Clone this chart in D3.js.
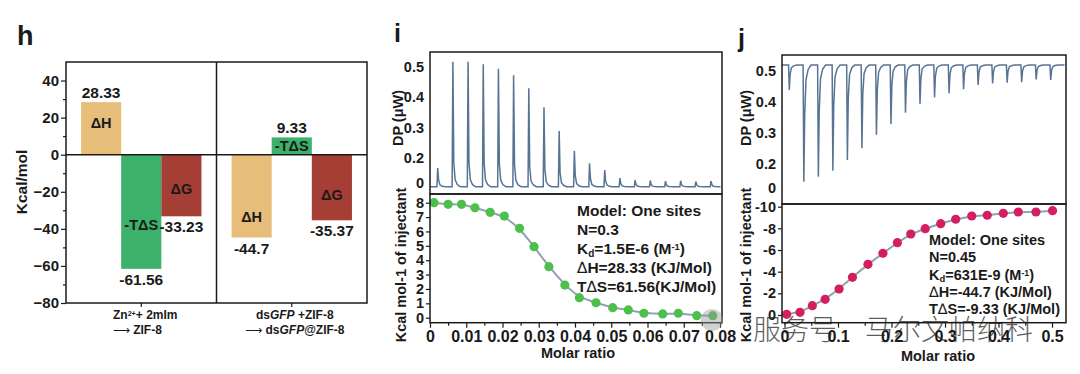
<!DOCTYPE html>
<html>
<head>
<meta charset="utf-8">
<script src="https://cdn.jsdelivr.net/npm/d3@7"></script>
<style>
  body { margin: 0; background: #fff; }
  svg text { font-family: "Liberation Sans", Arial, sans-serif; font-weight: bold; fill: #1a1a1a; }
  .axis path, .axis line { stroke: #1a1a1a; stroke-width: 1.2; }
</style>
</head>
<body>
<div id="chart"></div>
<script>
// ---- panel h : thermodynamic bars ----
const hGroups = ["zif", "gfp"];
const hTerms = ["ΔH", "-TΔS", "ΔG"];
const hValues = [[28.33, -61.56, -33.23], [-44.7, 9.33, -35.37]];
const hColors = ["#e6be7a", "#3bb16b", "#a53e35"];
const hTicks = [-80, -60, -40, -20, 0, 20, 40];
const hMinor = [-70, -50, -30, -10, 10, 30];
// where the term name sits inside each bar (share of the bar length)
const hNameDepth = [[0.6, 0.62, 0.56], [0.75, 0.5, 0.61]];

// ---- panel i : dsGFP + ZIF-8 titration ----
const iPeaks = [0.12, 0.517, 0.517, 0.509, 0.494, 0.473, 0.43, 0.367, 0.289, 0.224,
  0.158, 0.104, 0.04, 0.024, 0.02, 0.015, 0.018, 0.012, 0.015];
const iBase = -0.03;
const iRatio = [0.0011, 0.005, 0.0087, 0.0124, 0.0166, 0.0205, 0.0247, 0.0287, 0.0328, 0.0372,
  0.0412, 0.0458, 0.0504, 0.0547, 0.059, 0.0642, 0.0685, 0.0736, 0.078];
const iHeat = [8.0, 7.89, 7.89, 7.65, 7.33, 7.07, 6.22, 4.94, 3.55, 2.27,
  1.39, 1.04, 0.7, 0.54, 0.31, 0.26, 0.31, 0.14, 0.14];
const iRatioTicks = [0, 0.01, 0.02, 0.03, 0.04, 0.05, 0.06, 0.07, 0.08];
const iHeatTicks = [0, 1, 2, 3, 4, 5, 6, 7, 8];

// ---- panel j : Zn2+ + 2mIm titration ----
const jPeaks = [0.439, 0.053, 0.094, 0.144, 0.213, 0.251, 0.294, 0.329, 0.365, 0.394,
  0.415, 0.428, 0.441, 0.455, 0.46, 0.462, 0.464, 0.473, 0.471];
const jBase = 0.519;
const jRatio = [0.004, 0.029, 0.052, 0.076, 0.102, 0.127, 0.156, 0.184, 0.211, 0.236,
  0.263, 0.292, 0.32, 0.35, 0.379, 0.409, 0.437, 0.47, 0.501];
const jHeat = [-0.06, -0.25, -0.86, -1.45, -2.4, -3.48, -4.68, -5.7, -6.68, -7.48,
  -7.97, -8.43, -8.84, -9.14, -9.21, -9.39, -9.51, -9.51, -9.63];
const jRatioTicks = [0, 0.1, 0.2, 0.3, 0.4, 0.5];
const jHeatTicks = [0, -2, -4, -6, -8, -10];

const dpTicks = [0, 0.2, 0.3, 0.4, 0.5];

const svg = d3.select("#chart").append("svg")
  .attr("width", 1080).attr("height", 374);

function frame(g, x0, y0, x1, y1) {
  g.append("rect").attr("x", x0).attr("y", y0)
    .attr("width", x1 - x0).attr("height", y1 - y0)
    .attr("fill", "none").attr("stroke", "#1a1a1a").attr("stroke-width", 1.5);
}

function styleTicks(sel, size) {
  sel.select(".domain").remove();
  sel.selectAll("text").style("font-size", size + "px").attr("fill", "#1a1a1a");
}

// rich text lines: array of [text, kind] pieces
function richLine(g, x, y, pieces, size, anchor) {
  const t = g.append("text").attr("x", x).attr("y", y)
    .style("font-size", size + "px").attr("text-anchor", anchor || "start");
  pieces.forEach(p => {
    const s = t.append("tspan").text(p[0]);
    if (p[1] === "sub") s.attr("baseline-shift", "-25%").style("font-size", (size * 0.65) + "px");
    if (p[1] === "sup") s.attr("baseline-shift", "45%").style("font-size", (size * 0.6) + "px");
    if (p[1] === "it") s.style("font-style", "italic");
    if (p[1] === "thin") s.style("font-weight", "normal").style("font-family", "DejaVu Sans");
  });
  return t;
}

// =============== h ===============
const h = svg.append("g");
h.append("text").attr("x", 17).attr("y", 45).style("font-size", "27px").text("h");

const hx = d3.scaleBand().domain(hGroups).range([66, 367]).paddingInner(0.2).paddingOuter(0.1);
const hx1 = d3.scaleBand().domain(hTerms).range([0, hx.bandwidth()]);
const hy = d3.scaleLinear().domain([-80, 50]).range([303, 62]);

hGroups.forEach((grp, gi) => {
  const g = h.append("g").attr("transform", `translate(${hx(grp)},0)`);
  const rows = hTerms.map((t, k) => ({ term: t, v: hValues[gi][k], k: k }));
  g.selectAll("rect").data(rows).join("rect")
    .attr("x", d => hx1(d.term))
    .attr("width", hx1.bandwidth())
    .attr("y", d => hy(Math.max(0, d.v)))
    .attr("height", d => Math.abs(hy(d.v) - hy(0)))
    .attr("fill", d => hColors[d.k]);
  g.selectAll(".val").data(rows).join("text").attr("class", "val")
    .attr("x", d => hx1(d.term) + hx1.bandwidth() / 2)
    .attr("y", d => d.v > 0 ? hy(d.v) - 4 : hy(d.v) + 16)
    .attr("text-anchor", "middle").style("font-size", "15.5px")
    .text(d => String(d.v));
  g.selectAll(".nm").data(rows).join("text").attr("class", "nm")
    .attr("x", d => hx1(d.term) + hx1.bandwidth() / 2)
    .attr("y", d => hy(d.v * hNameDepth[gi][d.k]) + 5)
    .attr("text-anchor", "middle").style("font-size", "14.5px")
    .text(d => d.term);
});

h.append("line").attr("x1", 66).attr("x2", 367).attr("y1", hy(0)).attr("y2", hy(0))
  .attr("stroke", "#1a1a1a").attr("stroke-width", 1.5);
h.append("line").attr("x1", 216.5).attr("x2", 216.5).attr("y1", 62).attr("y2", 303)
  .attr("stroke", "#1a1a1a").attr("stroke-width", 1.5);
frame(h, 66, 62, 367, 303);

h.append("g").attr("class", "axis").attr("transform", "translate(66,0)")
  .call(d3.axisLeft(hy).tickValues(hTicks).tickSize(5).tickPadding(2))
  .call(s => styleTicks(s, 15));
h.append("g").attr("class", "axis").attr("transform", "translate(66,0)")
  .call(d3.axisLeft(hy).tickValues(hMinor).tickSize(3).tickFormat(""))
  .call(s => s.select(".domain").remove());
h.append("g").attr("class", "axis").attr("transform", "translate(0,303)")
  .call(d3.axisBottom(hx).tickSize(4).tickFormat(""))
  .call(s => s.select(".domain").remove());

h.append("text").attr("transform", "translate(27,182) rotate(-90)")
  .attr("text-anchor", "middle").style("font-size", "15.5px").text("Kcal/mol");

const c1 = hx("zif") + hx.bandwidth() / 2, c2 = hx("gfp") + hx.bandwidth() / 2;
richLine(h, c1 + 4, 319, [["Zn"], ["2+", "sup"], ["+ 2mIm"]], 12, "middle");
richLine(h, c1 - 4, 334, [["⟶", "thin"], [" ZIF-8"]], 12, "middle");
richLine(h, c2 + 3, 319, [["ds"], ["GFP", "it"], [" +ZIF-8"]], 12, "middle");
richLine(h, c2 + 3, 334, [["⟶", "thin"], [" ds"], ["GFP", "it"], ["@ZIF-8"]], 12, "middle");

// =============== DP traces ===============
function spikePoints(peaks, base, xs) {
  const pts = [[xs.invert(xs.range()[0] - 7.6), base]];
  peaks.forEach((p, i) => {
    const d = p - base;
    pts.push([i - 0.05, base], [i, p], [i + 0.06, base + d * 0.35],
      [i + 0.15, base + d * 0.1], [i + 0.3, base + d * 0.03], [i + 0.5, base]);
  });
  return pts;
}

function dpPanel(g, box, yRange, peaks, base, injRange) {
  const xs = d3.scaleLinear().domain([0, peaks.length - 1]).range(injRange);
  const ys = d3.scaleLinear().domain([0, 0.2, 0.5]).range(yRange);
  const pts = spikePoints(peaks, base, xs);
  pts.push([xs.invert(box[2] - 1.5), base]);
  g.append("path").datum(pts)
    .attr("d", d3.line().x(d => xs(d[0])).y(d => ys(d[1])))
    .attr("fill", "none").attr("stroke", "#587494").attr("stroke-width", 1.5);
  g.append("g").attr("class", "axis").attr("transform", `translate(${box[0]},0)`)
    .call(d3.axisLeft(ys).tickValues(dpTicks).tickSize(0).tickPadding(6)
      .tickFormat(d => d === 0 ? "0" : d3.format(".1f")(d)))
    .call(s => styleTicks(s, 14.5));
}

function itcPanel(g, box, xs, ys, xTicks, yTicks, xFmt, yFmt, ratio, heat, dotColor) {
  const pts = ratio.map((r, i) => [r, heat[i]]);
  g.append("path").datum(pts)
    .attr("d", d3.line().x(d => xs(d[0])).y(d => ys(d[1])).curve(d3.curveBasis))
    .attr("fill", "none").attr("stroke", "#8ea2b6").attr("stroke-width", 2);
  g.selectAll(".dot").data(pts).join("circle").attr("class", "dot")
    .attr("cx", d => xs(d[0])).attr("cy", d => ys(d[1])).attr("r", 4.6)
    .attr("fill", dotColor);
  const minor = xTicks.slice(1).map((t, i) => (t + xTicks[i]) / 2);
  g.append("g").attr("class", "axis").attr("transform", `translate(0,${box[3]})`)
    .call(d3.axisBottom(xs).tickValues(xTicks).tickSize(5).tickPadding(3).tickFormat(xFmt))
    .call(s => styleTicks(s, 16));
  g.append("g").attr("class", "axis").attr("transform", `translate(0,${box[3]})`)
    .call(d3.axisBottom(xs).tickValues(minor).tickSize(3).tickFormat(""))
    .call(s => s.select(".domain").remove());
  g.append("g").attr("class", "axis").attr("transform", `translate(${box[0]},0)`)
    .call(d3.axisLeft(ys).tickValues(yTicks).tickSize(4).tickPadding(2).tickFormat(yFmt))
    .call(s => styleTicks(s, 14.5));
}

function fitNote(g, x, y0, step, size, lines) {
  lines.forEach((pieces, k) => richLine(g, x, y0 + k * step, pieces, size, "start"));
}

// =============== i ===============
const pi = svg.append("g");
pi.append("text").attr("x", 394).attr("y", 42).style("font-size", "25px").text("i");
dpPanel(pi, [430, 52, 722, 194], [183, 158, 67], iPeaks, iBase, [437.7, 711]);
const ix = d3.scaleLinear().domain([0, 0.08]).range([430, 720]);
const iy = d3.scaleLinear().domain([0, 8]).range([317.7, 202.7]);
itcPanel(pi, [430, 194, 722, 322.7], ix, iy, iRatioTicks, iHeatTicks,
  d => d === 0 ? "0" : d3.format(".2f")(d), d => String(d), iRatio, iHeat, "#4cc04a");
frame(pi, 430, 52, 722, 194);
frame(pi, 430, 194, 722, 322.7);
fitNote(pi, 577, 216, 19, 15.5, [
  [["Model: One sites"]],
  [["N=0.3"]],
  [["K"], ["d", "sub"], ["=1.5E-6 (M"], ["-1", "sup"], [")"]],
  [["∆", "thin"], ["H=28.33 (KJ/Mol)"]],
  [["T"], ["∆", "thin"], ["S=61.56(KJ/Mol)"]]
]);
pi.append("text").attr("transform", "translate(403,118) rotate(-90)")
  .attr("text-anchor", "middle").style("font-size", "14.5px").text("DP (μW)");
pi.append("text").attr("transform", "translate(406,265) rotate(-90)")
  .attr("text-anchor", "middle").style("font-size", "14.5px").text("Kcal mol-1 of injectant");
pi.append("text").attr("x", 578).attr("y", 358).attr("text-anchor", "middle")
  .style("font-size", "14.5px").text("Molar ratio");

// =============== j ===============
const pj = svg.append("g");
pj.append("text").attr("x", 738).attr("y", 47).style("font-size", "25px").text("j");
dpPanel(pj, [782, 55, 1066, 204], [188, 164, 71], jPeaks, jBase, [789.3, 1050.7]);
const jx = d3.scaleLinear().domain([0, 0.5]).range([784.5, 1052]);
const jy = d3.scaleLinear().domain([0, -10]).range([315, 206.7]);
itcPanel(pj, [782, 204, 1066, 322.7], jx, jy, jRatioTicks, jHeatTicks,
  d => d === 0 ? "0" : d3.format(".1f")(d), d => String(d), jRatio, jHeat, "#d41f5e");
frame(pj, 782, 55, 1066, 204);
frame(pj, 782, 204, 1066, 322.7);
fitNote(pj, 929, 245, 17.3, 14.5, [
  [["Model: One sites"]],
  [["N=0.45"]],
  [["K"], ["d", "sub"], ["=631E-9 (M"], ["-1", "sup"], [")"]],
  [["∆", "thin"], ["H=-44.7 (KJ/Mol)"]],
  [["T"], ["∆", "thin"], ["S=-9.33 (KJ/Mol)"]]
]);
pj.append("text").attr("transform", "translate(751,118) rotate(-90)")
  .attr("text-anchor", "middle").style("font-size", "14.5px").text("DP (μW)");
pj.append("text").attr("transform", "translate(751,265) rotate(-90)")
  .attr("text-anchor", "middle").style("font-size", "14.5px").text("Kcal mol-1 of injectant");
pj.append("text").attr("x", 938).attr("y", 361).attr("text-anchor", "middle")
  .style("font-size", "14.5px").text("Molar ratio");

// watermark
svg.append("circle").attr("cx", 712).attr("cy", 320).attr("r", 11)
  .attr("fill", "#9a9a9a").attr("opacity", 0.45);
svg.append("text").attr("x", 753).attr("y", 340)
  .style("font-family", "'Noto Sans CJK SC'").style("font-weight", "300")
  .style("font-size", "28px").attr("fill", "#a8a8a8").attr("opacity", 0.7)
  .text("服务号\u2002\u2002马尔文帕纳科");
</script>
</body>
</html>
